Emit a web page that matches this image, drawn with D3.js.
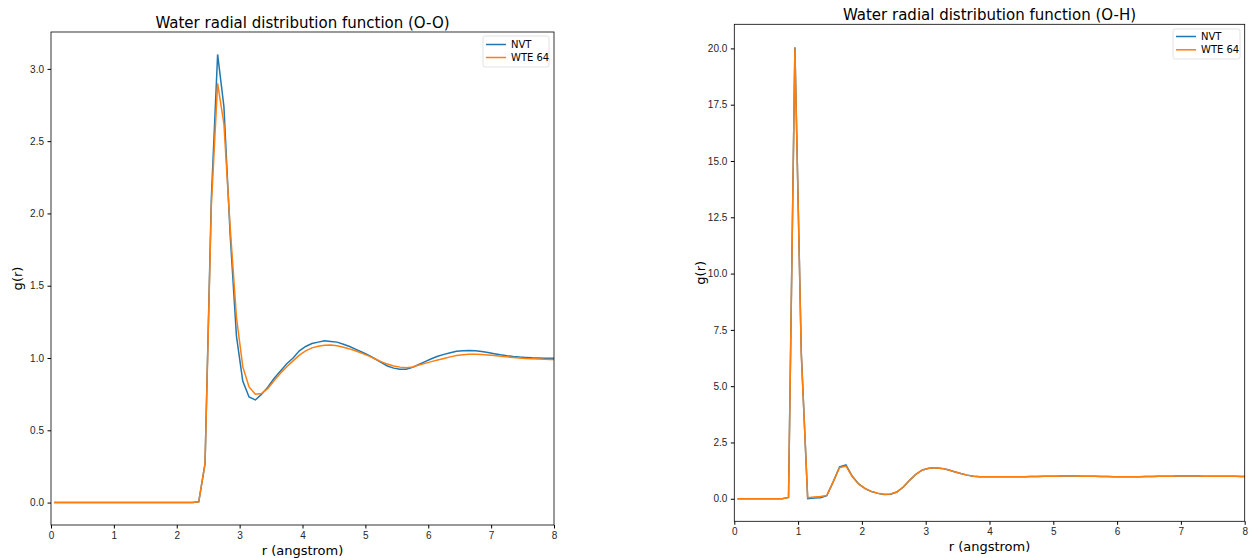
<!DOCTYPE html>
<html>
<head>
<meta charset="utf-8">
<script src="https://cdn.jsdelivr.net/npm/d3@7"></script>
<style>
  body { margin: 0; background: #fff; }
  svg { font-family: "DejaVu Sans", sans-serif; }
  .tick text { fill: #262626; }
</style>
</head>
<body>
<div id="chart"></div>
<script>
// r grid (bin centres, angstrom)
const rGrid = d3.range(0, 81).map(i => +(0.05 + i * 0.1).toFixed(2));

// O-O g(r)
const zerosOO = new Array(23).fill(0);
const ooNVT = zerosOO.concat([
  0.005, 0.27, 2.10, 3.10, 2.74, 1.85, 1.15, 0.84, 0.73, 0.71,
  0.75, 0.80, 0.86, 0.91, 0.96, 1.00, 1.05, 1.08, 1.10, 1.11,
  1.12, 1.115, 1.11, 1.095, 1.08, 1.06, 1.04, 1.02, 0.995, 0.97,
  0.945, 0.93, 0.922, 0.922, 0.935, 0.955, 0.975, 0.995, 1.012, 1.025,
  1.037, 1.047, 1.05, 1.052, 1.05, 1.045, 1.038, 1.03, 1.022, 1.016,
  1.011, 1.007, 1.004, 1.001, 1.0, 0.998, 0.998, 1.0
]);
const ooWTE = zerosOO.concat([
  0.005, 0.27, 2.05, 2.90, 2.62, 1.90, 1.28, 0.94, 0.80, 0.75,
  0.755, 0.79, 0.845, 0.895, 0.94, 0.98, 1.02, 1.05, 1.07, 1.082,
  1.088, 1.09, 1.085, 1.075, 1.063, 1.048, 1.032, 1.015, 0.995, 0.975,
  0.958, 0.945, 0.937, 0.933, 0.938, 0.952, 0.963, 0.975, 0.986, 0.997,
  1.008, 1.017, 1.023, 1.026, 1.026, 1.024, 1.021, 1.017, 1.012, 1.008,
  1.004, 1.0, 0.997, 0.995, 0.993, 0.991, 0.99, 0.99
]);

// O-H g(r)
const zerosOH = new Array(8).fill(0);
const ohNVT = zerosOH.concat([
  0.06, 20.05, 6.5, 0.0, 0.03, 0.05, 0.14, 0.75, 1.42, 1.50,
  1.00, 0.66, 0.45, 0.32, 0.24, 0.19, 0.20, 0.30, 0.52, 0.83,
  1.10, 1.28, 1.36, 1.38, 1.35, 1.29, 1.20, 1.12, 1.05, 1.00,
  0.98, 0.975, 0.975, 0.975, 0.975, 0.975, 0.976, 0.98, 0.985, 0.99,
  0.995, 1.0, 1.005, 1.01, 1.01, 1.01, 1.005, 1.0, 0.995, 0.99,
  0.985, 0.98, 0.978, 0.978, 0.98, 0.982, 0.985, 0.99, 0.995, 1.0,
  1.005, 1.008, 1.01, 1.01, 1.008, 1.005, 1.002, 1.0, 0.998, 0.996,
  0.995, 0.994, 0.994
]);
const ohWTE = zerosOH.concat([
  0.06, 20.0, 6.4, 0.05, 0.08, 0.10, 0.15, 0.75, 1.38, 1.45,
  0.98, 0.65, 0.46, 0.33, 0.25, 0.20, 0.21, 0.31, 0.53, 0.83,
  1.10, 1.28, 1.36, 1.38, 1.35, 1.29, 1.20, 1.12, 1.05, 1.00,
  0.98, 0.975, 0.975, 0.975, 0.975, 0.975, 0.976, 0.98, 0.985, 0.99,
  0.995, 1.0, 1.005, 1.01, 1.01, 1.01, 1.005, 1.0, 0.995, 0.99,
  0.985, 0.98, 0.978, 0.978, 0.98, 0.982, 0.985, 0.99, 0.995, 1.0,
  1.005, 1.008, 1.01, 1.01, 1.008, 1.005, 1.002, 1.0, 0.998, 0.996,
  0.995, 0.994, 0.994
]);

const seriesNames = ["NVT", "WTE 64"];
const colors = ["#1f77b4", "#ff7f0e"];
const xTicks = [0, 1, 2, 3, 4, 5, 6, 7, 8];
const ooTicks = [0.0, 0.5, 1.0, 1.5, 2.0, 2.5, 3.0];
const ohTicks = [0.0, 2.5, 5.0, 7.5, 10.0, 12.5, 15.0, 17.5, 20.0];

const svg = d3.select("#chart").append("svg")
  .attr("width", 1249).attr("height", 558);

function panel(opts) {
  const { id, left, right, top, bottom, yDomain, yTicks, series, title, legend, titleSize } = opts;

  const x = d3.scaleLinear().domain([0, 8]).range([left, right]);
  const y = d3.scaleLinear().domain(yDomain).range([bottom, top]);

  svg.append("clipPath").attr("id", "clip-" + id)
    .append("rect").attr("x", left).attr("y", top)
    .attr("width", right - left).attr("height", bottom - top);

  const g = svg.append("g");

  const line = d3.line().x((d, i) => x(rGrid[i])).y(d => y(d));
  series.forEach((s, k) => {
    g.append("path")
      .datum(s)
      .attr("clip-path", `url(#clip-${id})`)
      .attr("fill", "none")
      .attr("stroke", colors[k])
      .attr("stroke-width", 1.5)
      .attr("d", line);
  });

  // frame
  g.append("rect").attr("x", left).attr("y", top)
    .attr("width", right - left).attr("height", bottom - top)
    .attr("fill", "none").attr("stroke", "#000").attr("stroke-width", 0.8);

  g.append("g")
    .attr("transform", `translate(0,${bottom})`)
    .call(d3.axisBottom(x).tickValues(xTicks).tickFormat(d3.format("d")).tickSize(3.5).tickPadding(3.5))
    .call(a => a.select(".domain").remove())
    .call(a => a.selectAll("text").style("font-size", "10px"));

  g.append("g")
    .attr("transform", `translate(${left},0)`)
    .call(d3.axisLeft(y).tickValues(yTicks).tickFormat(d3.format(".1f")).tickSize(3.5).tickPadding(3.5))
    .call(a => a.select(".domain").remove())
    .call(a => a.selectAll("text").style("font-size", "10px"));

  svg.append("text")
    .attr("x", (left + right) / 2).attr("y", top - 4)
    .attr("text-anchor", "middle")
    .style("font-size", titleSize + "px")
    .attr("fill", "#000")
    .text(title);

  svg.append("text")
    .attr("x", (left + right) / 2).attr("y", bottom + 30)
    .attr("text-anchor", "middle")
    .style("font-size", "13px")
    .text("r (angstrom)");

  svg.append("text")
    .attr("transform", `translate(${left - 29},${(top + bottom) / 2}) rotate(-90)`)
    .attr("text-anchor", "middle")
    .style("font-size", "13px")
    .text("g(r)");

  // legend
  const lg = svg.append("g").attr("transform", `translate(${legend.x},${legend.y})`);
  lg.append("rect").attr("width", legend.w).attr("height", legend.h)
    .attr("rx", 2).attr("fill", "#fff").attr("fill-opacity", 0.8)
    .attr("stroke", "#d9d9d9").attr("stroke-width", 0.8);
  seriesNames.forEach((name, k) => {
    const yy = legend.row0 + k * legend.step;
    lg.append("line").attr("x1", 3).attr("x2", 23).attr("y1", yy).attr("y2", yy)
      .attr("stroke", colors[k]).attr("stroke-width", 1.5);
    lg.append("text").attr("x", 28).attr("y", yy + 3.5)
      .style("font-size", legend.font + "px").text(name);
  });
}

panel({
  id: "oo", left: 51, right: 554, top: 32, bottom: 525,
  yDomain: [-0.155, 3.255], yTicks: ooTicks,
  series: [ooNVT, ooWTE],
  title: "Water radial distribution function (O-O)", titleSize: 15,
  legend: { x: 483, y: 36, w: 66, h: 31, row0: 8.5, step: 13, font: 10 }
});

panel({
  id: "oh", left: 734.3, right: 1244.7, top: 24.3, bottom: 521.3,
  yDomain: [-1.0, 21.07], yTicks: ohTicks,
  series: [ohNVT, ohWTE],
  title: "Water radial distribution function (O-H)", titleSize: 15,
  legend: { x: 1173, y: 29, w: 67, h: 30, row0: 7.5, step: 13.3, font: 10 }
});
</script>
</body>
</html>
